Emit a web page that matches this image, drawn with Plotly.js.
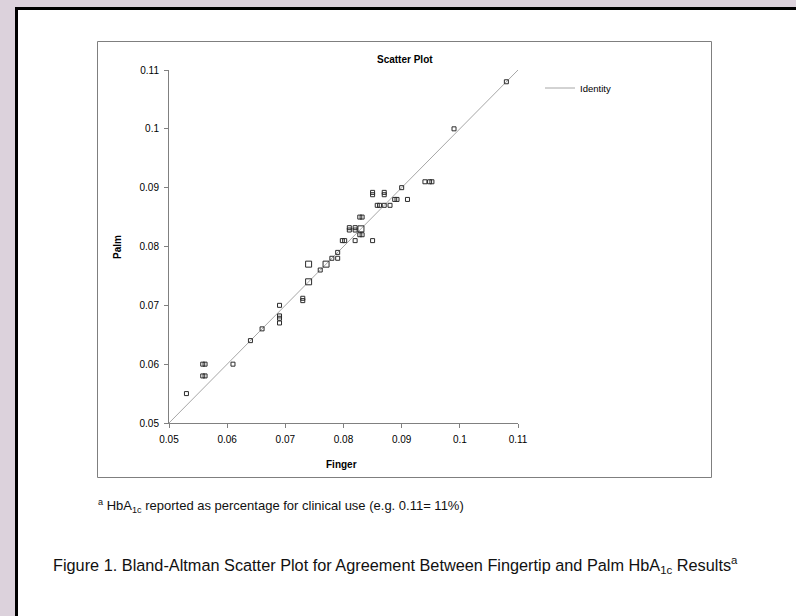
<!DOCTYPE html>
<html>
<head>
<meta charset="utf-8">
<script src="https://cdn.plot.ly/plotly-3.0.1.min.js"></script>
<style>
  html, body { margin: 0; padding: 0; background: #dcd2dc; }
  #chart { width: 796px; height: 616px; }
</style>
</head>
<body>
<div id="chart"></div>
<script>
// ---- Data ----
const finger = [0.053, 0.0558, 0.0562, 0.0558, 0.0562, 0.061, 0.064, 0.066, 0.069, 0.069, 0.069, 0.069,
  0.073, 0.073, 0.076, 0.078, 0.079, 0.079, 0.0798, 0.0802, 0.082, 0.085, 0.081, 0.081, 0.082, 0.082,
  0.0828, 0.0832, 0.0828, 0.0832, 0.0858, 0.0862, 0.087, 0.088, 0.085, 0.085, 0.087, 0.087,
  0.0888, 0.0892, 0.091, 0.090, 0.094, 0.0948, 0.0952, 0.099, 0.108];
const palm = [0.055, 0.060, 0.060, 0.058, 0.058, 0.060, 0.064, 0.066, 0.070, 0.0678, 0.0682, 0.067,
  0.0708, 0.0712, 0.076, 0.078, 0.079, 0.078, 0.081, 0.081, 0.081, 0.081, 0.0828, 0.0832, 0.0828, 0.0832,
  0.082, 0.082, 0.085, 0.085, 0.087, 0.087, 0.087, 0.087, 0.0888, 0.0892, 0.0888, 0.0892,
  0.088, 0.088, 0.088, 0.090, 0.091, 0.091, 0.091, 0.100, 0.108];
// points drawn with a larger marker (overlapping observations)
const fingerLarge = [0.074, 0.074, 0.077, 0.083];
const palmLarge = [0.077, 0.074, 0.077, 0.083];
// identity line
const identityX = [0.05, 0.11];
const identityY = [0.05, 0.11];
const tickVals = [0.05, 0.06, 0.07, 0.08, 0.09, 0.1, 0.11];
const tickText = ['0.05', '0.06', '0.07', '0.08', '0.09', '0.1', '0.11'];

// ---- Layout helpers (pixel -> paper) ----
const W = 796, H = 616;
const L = 169, R = 518, T = 70, B = 423;
const px = x => (x - L) / (R - L);
const py = y => (B - y) / (B - T);
const FONT = 'Liberation Sans, Arial, sans-serif';

const markerStyle = { symbol: 'square-open', size: 4, color: '#2b2b2b', line: { width: 1, color: '#2b2b2b' } };

const traces = [
  { x: identityX, y: identityY, type: 'scatter', mode: 'lines', name: 'Identity',
    line: { color: '#a6a6a6', width: 1 }, cliponaxis: false, hoverinfo: 'skip' },
  { x: finger, y: palm, type: 'scatter', mode: 'markers', name: 'Data', showlegend: false,
    marker: markerStyle, cliponaxis: false },
  { x: fingerLarge, y: palmLarge, type: 'scatter', mode: 'markers', name: 'Data (overlap)', showlegend: false,
    marker: Object.assign({}, markerStyle, { size: 6 }), cliponaxis: false }
];

const axisCommon = {
  range: [0.05, 0.11], tickvals: tickVals, ticktext: tickText,
  showgrid: false, zeroline: false, showline: true, linecolor: '#808080', linewidth: 1,
  ticks: 'outside', ticklen: 4, tickcolor: '#808080', tickwidth: 1,
  tickfont: { family: FONT, size: 10, color: '#000' }, fixedrange: true
};

const layout = {
  width: W, height: H,
  margin: { l: L, r: W - R, t: T, b: H - B, pad: 0 },
  paper_bgcolor: '#dcd2dc',
  plot_bgcolor: 'rgba(0,0,0,0)',
  showlegend: true,
  legend: {
    x: px(540), y: py(88), xanchor: 'left', yanchor: 'middle',
    bgcolor: 'rgba(0,0,0,0)', borderwidth: 0,
    font: { family: FONT, size: 9.5, color: '#000' }, itemwidth: 30
  },
  xaxis: Object.assign({}, axisCommon, { ticklabelstandoff: 3 }),
  yaxis: Object.assign({}, axisCommon, { ticklabelstandoff: 3 }),
  shapes: [
    // page (white sheet with black border)
    { type: 'rect', xref: 'paper', yref: 'paper', layer: 'below',
      x0: px(16.5), x1: px(830), y0: py(8.5), y1: py(660),
      fillcolor: '#ffffff', line: { color: '#000', width: 3 } },
    // chart frame
    { type: 'rect', xref: 'paper', yref: 'paper', layer: 'below',
      x0: px(97.5), x1: px(711.5), y0: py(41.5), y1: py(477.5),
      fillcolor: '#ffffff', line: { color: '#7f7f7f', width: 1 } }
  ],
  annotations: [
    { text: '<b>Scatter Plot</b>', xref: 'paper', yref: 'paper', x: px(405), y: py(59),
      xanchor: 'center', yanchor: 'middle', showarrow: false,
      font: { family: FONT, size: 10, color: '#000' } },
    { text: '<b>Palm</b>', xref: 'paper', yref: 'paper', x: px(117), y: py(247), textangle: -90,
      xanchor: 'center', yanchor: 'middle', showarrow: false,
      font: { family: FONT, size: 10, color: '#000' } },
    { text: '<b>Finger</b>', xref: 'paper', yref: 'paper', x: px(341), y: py(464),
      xanchor: 'center', yanchor: 'middle', showarrow: false,
      font: { family: FONT, size: 10, color: '#000' } },
    { text: '<sup>a</sup> HbA<sub>1c</sub> reported as percentage for clinical use (e.g. 0.11= 11%)',
      xref: 'paper', yref: 'paper', x: px(96), y: py(506),
      xanchor: 'left', yanchor: 'middle', showarrow: false,
      font: { family: FONT, size: 13, color: '#111' } },
    { text: 'Figure 1. Bland-Altman Scatter Plot for Agreement Between Fingertip and Palm HbA<sub>1c</sub> Results<sup>a</sup>',
      xref: 'paper', yref: 'paper', x: px(51), y: py(565),
      xanchor: 'left', yanchor: 'middle', showarrow: false,
      font: { family: FONT, size: 16.3, color: '#111' } }
  ]
};

Plotly.newPlot('chart', traces, layout, { displayModeBar: false, staticPlot: true });
</script>
</body>
</html>
